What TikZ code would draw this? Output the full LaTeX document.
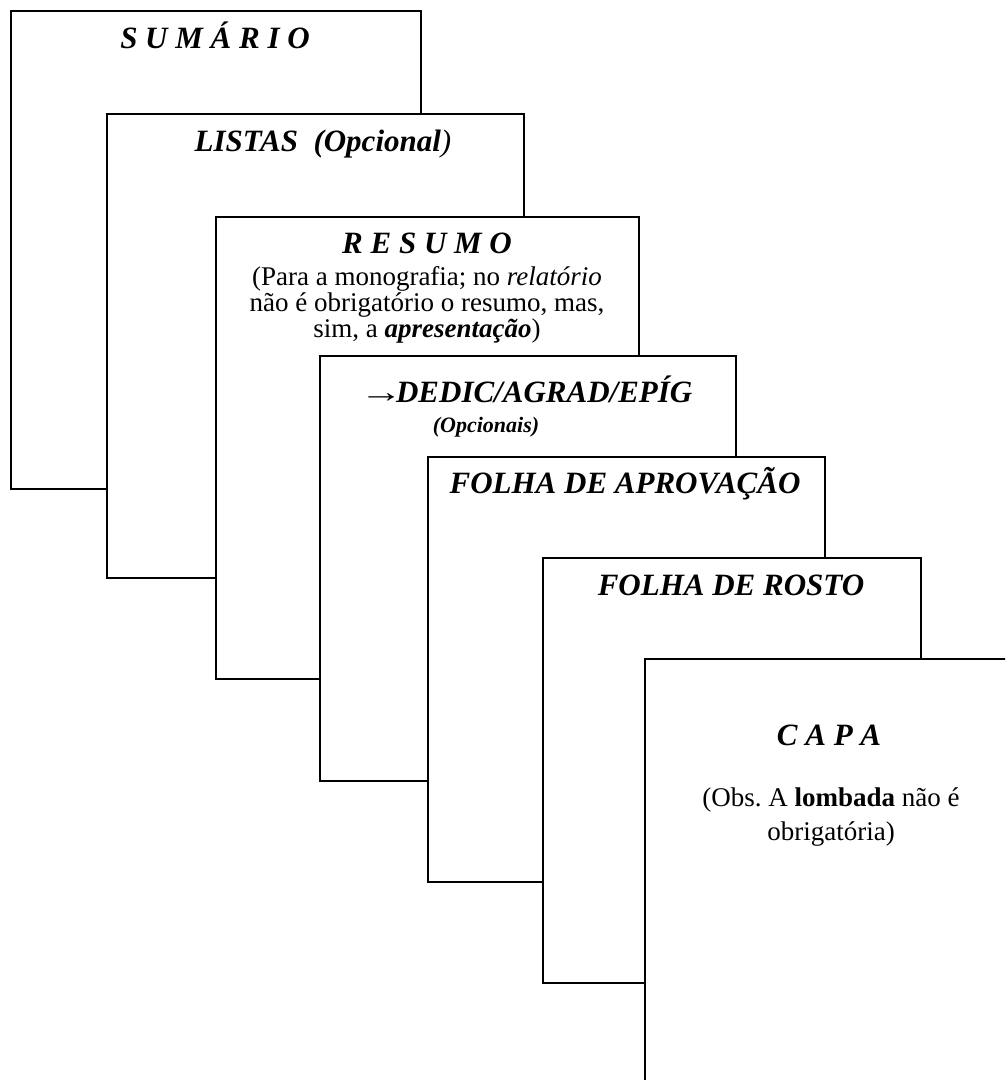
\documentclass[tikz,border=0pt]{standalone}
\usepackage{fontspec}
\usepackage{graphicx}
\setmainfont{Liberation Serif}
\frenchspacing
\tikzset{
  page/.style={draw=black, fill=white, line width=1.5pt},
  ttl/.style={anchor=base, inner sep=0pt, font=\fontsize{31}{33}\selectfont\bfseries\itshape},
  body/.style={anchor=base, inner sep=0pt, font=\fontsize{27}{26}\selectfont},
  small/.style={anchor=base, inner sep=0pt, font=\fontsize{22}{24}\selectfont\bfseries\itshape},
}
\begin{document}
\begin{tikzpicture}[x=1pt,y=-1pt]
\useasboundingbox (0,0) rectangle (1005,1080);
\clip (0,0) rectangle (1005,1080);
% pages, back to front
\path[page] (11,11) rectangle (421,489);
\path[page] (107,114) rectangle (524,578);
\path[page] (216,217) rectangle (639,679);
\path[page] (320,356) rectangle (736,781);
\path[page] (428,457) rectangle (825,882);
\path[page] (543,558) rectangle (921,983);
\path[page] (645,659) rectangle (1030,1100);
% texts
\node[ttl] (sum) at (215,48) {S U M Á R I O};
\node[ttl] (lis) at (323,151) {LISTAS~~(Opcional{\mdseries)}};
\node[ttl] (res) at (427,253) {R E S U M O};
\node[body] (res1) at (427,285) {(Para a monografia; no \textit{relatório}};
\node[body] (res2) at (427,311) {não é obrigatório o resumo, mas,};
\node[body] (res3) at (427,337) {sim, a \textbf{\textit{apresentação}})};
\node[ttl] (ded) at (526,402) {{\mdseries\upshape\scalebox{1.4}[1]{→}\kern-7pt}DEDIC/AGRAD/EPÍG};
\node[small] (opc) at (486,432) {(Opcionais)};
\node[ttl] (apr) at (625,493) {FOLHA DE APROVAÇÃO};
\node[ttl] (ros) at (731,595) {FOLHA DE ROSTO};
\node[ttl] (cap) at (829,745) {C A P A};
\node[body] (obs1) at (831,806) {(Obs. A \textbf{lombada} não é};
\node[body] (obs2) at (831,840) {obrigatória)};
\end{tikzpicture}
\end{document}
